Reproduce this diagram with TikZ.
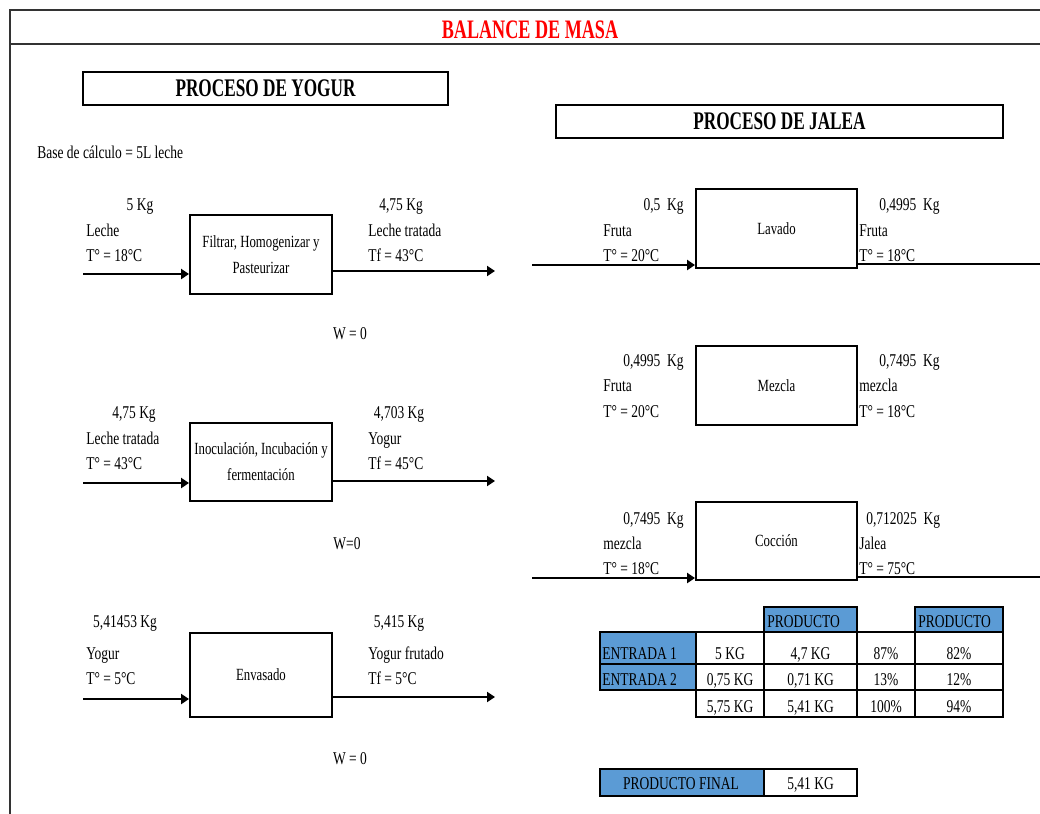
\documentclass[tikz,border=0pt]{standalone}
\usepackage{fontspec}
\setmainfont{Liberation Serif}[FakeStretch=0.75]
\newfontfamily\headfont{Liberation Serif}[FakeStretch=0.68]
\usetikzlibrary{arrows.meta,fit}
\definecolor{cellblue}{HTML}{5B9BD5}
\definecolor{framegray}{HTML}{333333}

\begin{document}
\begin{tikzpicture}[x=0.75pt,y=-0.75pt,
  every node/.style={font=\fontsize{13.5}{19.5}\selectfont, inner sep=0pt},
  lbl/.style={anchor=base west},
  lblr/.style={anchor=base east},
  lblc/.style={anchor=base},
  boxtext/.style={align=center, font=\fontsize{12.8}{19.5}\selectfont},
  procbox/.style={draw, line width=1.4pt, fit={#1}},
  headbox/.style={draw, line width=1.3pt, fit={#1}},
  headtext/.style={font=\headfont\bfseries\fontsize{19}{23}\selectfont},
  flow/.style={line width=2.2pt, -{Triangle[length=6pt,width=7.5pt]}},
  stream/.style={line width=2pt},
  frameline/.style={draw=framegray, line width=1.5pt},
  cell/.style={draw, line width=1.3pt, fit={#1}},
  hcell/.style={cell={#1}, fill=cellblue},
]
\useasboundingbox (0,0) rectangle (1040,814);

% sheet frame and title band
\coordinate (fTL) at (10,10);
\coordinate (fTR) at (1040,10);
\coordinate (fBL) at (10,814);
\coordinate (fML) at (10,44);
\coordinate (fMR) at (1040,44);
\draw[frameline] (fTR) -- (fTL) -- (fBL);
\draw[frameline] (fML) -- (fMR);
\node[lblc, text=red, font=\headfont\bfseries\fontsize{20}{24}\selectfont]
  (title) at (530,38) {BALANCE DE MASA};

% section headings
\node[headbox={(83,72)(448,105)}] (hYog) {};
\node[headtext] (hYogT) at (hYog.center) {PROCESO DE YOGUR};
\node[headbox={(556,105)(1003,138)}] (hJal) {};
\node[headtext] (hJalT) at (hJal.center) {PROCESO DE JALEA};
\node[lbl] (base) at (37,158) {Base de cálculo = 5L leche};

% ---------------- yogurt line ----------------
\node[procbox={(190,215)(332,294)}] (filt) {};
\node[boxtext] (filtT) at (filt.center) {Filtrar, Homogenizar y\\Pasteurizar};
\node[procbox={(190,423)(332,501)}] (inoc) {};
\node[boxtext] (inocT) at (inoc.center) {Inoculación, Incubación y\\fermentación};
\node[procbox={(190,633)(332,717)}] (envas) {};
\node[boxtext] (envasT) at (envas.center) {Envasado};

\coordinate (filtIn) at (83,274);
\coordinate (filtOut) at (495,271);
\draw[flow] (filtIn) -- (filtIn -| filt.west);
\draw[flow] (filtOut -| filt.east) -- (filtOut);
\node[lblc] (m1in) at (140,210) {5 Kg};
\node[lbl] (n1in) at (86,236) {Leche};
\node[lbl] (t1in) at (86,261) {T° = 18°C};
\node[lblc] (m1out) at (401,210) {4,75 Kg};
\node[lbl] (n1out) at (368,236) {Leche tratada};
\node[lbl] (t1out) at (368,261) {Tf = 43°C};
\node[lblc] (w1) at (350,339) {W = 0};

\coordinate (inocIn) at (83,483);
\coordinate (inocOut) at (495,481);
\draw[flow] (inocIn) -- (inocIn -| inoc.west);
\draw[flow] (inocOut -| inoc.east) -- (inocOut);
\node[lblc] (m2in) at (134,418) {4,75 Kg};
\node[lbl] (n2in) at (86,444) {Leche tratada};
\node[lbl] (t2in) at (86,469) {T° = 43°C};
\node[lblc] (m2out) at (399,418) {4,703 Kg};
\node[lbl] (n2out) at (368,444) {Yogur};
\node[lbl] (t2out) at (368,469) {Tf = 45°C};
\node[lblc] (w2) at (347,549) {W=0};

\coordinate (envIn) at (83,699);
\coordinate (envOut) at (495,697);
\draw[flow] (envIn) -- (envIn -| envas.west);
\draw[flow] (envOut -| envas.east) -- (envOut);
\node[lblc] (m3in) at (125,627) {5,41453 Kg};
\node[lbl] (n3in) at (86,659) {Yogur};
\node[lbl] (t3in) at (86,684) {T° = 5°C};
\node[lblc] (m3out) at (399,627) {5,415 Kg};
\node[lbl] (n3out) at (368,659) {Yogur frutado};
\node[lbl] (t3out) at (368,684) {Tf = 5°C};
\node[lblc] (w3) at (350,764) {W = 0};

% ---------------- jelly line ----------------
\node[procbox={(696,189)(857,268)}] (lav) {};
\node[boxtext] (lavT) at (lav.center) {Lavado};
\node[procbox={(696,346)(857,425)}] (mez) {};
\node[boxtext] (mezT) at (mez.center) {Mezcla};
\node[procbox={(696,502)(857,580)}] (coc) {};
\node[boxtext] (cocT) at (coc.center) {Cocción};

\coordinate (lavIn) at (532,265);
\coordinate (lavOut) at (1040,264);
\draw[flow] (lavIn) -- (lavIn -| lav.west);
\draw[stream] (lavOut -| lav.east) -- (lavOut);
\node[lblr] (ma) at (684,210) {0,5~~Kg};
\node[lbl] (na) at (603,236) {Fruta};
\node[lbl] (ta) at (603,261) {T° = 20°C};
\node[lbl] (mb) at (879,210) {0,4995~~Kg};
\node[lbl] (nb) at (859,236) {Fruta};
\node[lbl] (tb) at (859,261) {T° = 18°C};

\node[lblr] (mc) at (684,366) {0,4995~~Kg};
\node[lbl] (nc) at (603,391) {Fruta};
\node[lbl] (tc) at (603,417) {T° = 20°C};
\node[lbl] (md) at (879,366) {0,7495~~Kg};
\node[lbl] (nd) at (859,391) {mezcla};
\node[lbl] (td) at (859,417) {T° = 18°C};

\coordinate (cocIn) at (532,578);
\coordinate (cocOut) at (1040,577);
\draw[flow] (cocIn) -- (cocIn -| coc.west);
\draw[stream] (cocOut -| coc.east) -- (cocOut);
\node[lblr] (me) at (684,524) {0,7495~~Kg};
\node[lbl] (ne) at (603,549) {mezcla};
\node[lbl] (te) at (603,574) {T° = 18°C};
\node[lbl] (mf) at (866,524) {0,712025~~Kg};
\node[lbl] (nf) at (859,549) {Jalea};
\node[lbl] (tf) at (859,574) {T° = 75°C};

% ---------------- summary table ----------------
\node[hcell={(764,607)(857,632)}] (hP1) {};
\node[hcell={(915,607)(1003,632)}] (hP2) {};
\node[hcell={(600,632)(696,664)}] (e1) {};
\node[hcell={(600,664)(696,690)}] (e2) {};
\foreach \ya/\yb/\r in {632/664/1,664/690/2,690/717/3}
  \foreach \xa/\xb/\c in {696/764/a,764/857/b,857/915/c,915/1003/d}
    \node[cell={(\xa,\ya)(\xb,\yb)}] (c\r\c) {};

\node[lbl] (thP1) at (767,627) {PRODUCTO};
\node[lbl] (thP2) at (918,627) {PRODUCTO};
\node[lbl] (te1) at (602,659) {ENTRADA 1};
\node[lbl] (te2) at (602,685) {ENTRADA 2};

\node[lblc] (t1a) at (730,659) {5 KG};
\node[lblc] (t1b) at (810.5,659) {4,7 KG};
\node[lblc] (t1c) at (886,659) {87\%};
\node[lblc] (t1d) at (959,659) {82\%};
\node[lblc] (t2a) at (730,685) {0,75 KG};
\node[lblc] (t2b) at (810.5,685) {0,71 KG};
\node[lblc] (t2c) at (886,685) {13\%};
\node[lblc] (t2d) at (959,685) {12\%};
\node[lblc] (t3a) at (730,712) {5,75 KG};
\node[lblc] (t3b) at (810.5,712) {5,41 KG};
\node[lblc] (t3c) at (886,712) {100\%};
\node[lblc] (t3d) at (959,712) {94\%};

\node[hcell={(600,769)(764,796)}] (pf) {};
\node[cell={(764,769)(857,796)}] (pfv) {};
\node[lblc] (tpf) at (681,789) {PRODUCTO FINAL};
\node[lblc] (tpfv) at (810.5,789) {5,41 KG};
\end{tikzpicture}
\end{document}
